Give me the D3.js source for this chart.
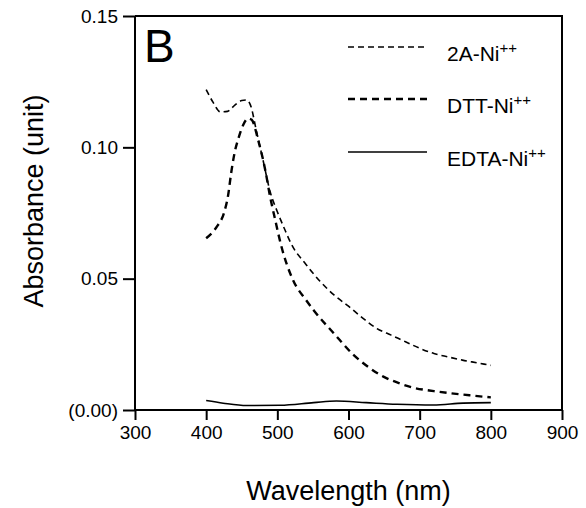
<!DOCTYPE html>
<html>
<head>
<meta charset="utf-8">
<script src="https://cdn.jsdelivr.net/npm/d3@7"></script>
<style>
  body { margin: 0; background: #fff; }
  svg { display: block; font-family: "Liberation Sans", Arial, Helvetica, sans-serif; }
</style>
</head>
<body>
<svg id="chart" width="586" height="508"></svg>
<script>
// ---- data ----
const seriesNames = ["2A-Ni++", "DTT-Ni++", "EDTA-Ni++"];

const wl2A  = [400, 410, 420, 430, 440, 450, 457, 463, 470, 480, 490, 500, 510, 520, 540, 560, 580, 600, 620, 640, 660, 680, 700, 720, 740, 760, 780, 800];
const abs2A = [0.122, 0.117, 0.1135, 0.1137, 0.116, 0.1178, 0.118, 0.1155, 0.107, 0.095, 0.083, 0.0755, 0.069, 0.063, 0.0555, 0.049, 0.0437, 0.0395, 0.035, 0.031, 0.0285, 0.026, 0.0235, 0.0215, 0.0202, 0.019, 0.018, 0.017];

const wlDTT  = [400, 415, 425, 431, 435, 440, 446, 452, 459, 464, 473, 483, 490, 497, 505, 522, 540, 551, 580, 607, 620, 649, 670, 691, 720, 740, 770, 800];
const absDTT = [0.0654, 0.0698, 0.075, 0.082, 0.090, 0.098, 0.104, 0.1085, 0.111, 0.1105, 0.1028, 0.0914, 0.081, 0.0724, 0.063, 0.0495, 0.042, 0.038, 0.029, 0.021, 0.018, 0.0127, 0.0103, 0.0085, 0.0072, 0.0065, 0.0056, 0.0048];

const wlEDTA  = [400, 424, 457, 504, 551, 583, 625, 668, 719, 761, 800];
const absEDTA = [0.0036, 0.0026, 0.0017, 0.0018, 0.0028, 0.0034, 0.0028, 0.0022, 0.0019, 0.0026, 0.0028];

const xTicks = [300, 400, 500, 600, 700, 800, 900];
const yTicks = [0, 0.05, 0.10, 0.15];
const yTickLabels = ["(0.00)", "0.05", "0.10", "0.15"];

const xTitle = "Wavelength (nm)";
const yTitle = "Absorbance (unit)";
const panelLabel = "B";

// ---- layout ----
const svg = d3.select("#chart");
const mLeft = 135, mRight = 562, mTop = 16, mBottom = 410;

const x = d3.scaleLinear().domain([300, 900]).range([mLeft, mRight]);
const y = d3.scaleLinear().domain([0, 0.15]).range([mBottom, mTop]);

// frame (top + right)
svg.append("path")
  .attr("d", `M${mLeft},${mTop}H${mRight}V${mBottom}`)
  .attr("fill", "none").attr("stroke", "#000").attr("stroke-width", 2);

// axes
const xAxis = d3.axisBottom(x).tickValues(xTicks).tickSize(10).tickPadding(6).tickFormat(d3.format("d"));
const yAxis = d3.axisLeft(y).tickValues(yTicks).tickSize(12).tickPadding(5)
  .tickFormat((d, i) => yTickLabels[i]);

const gx = svg.append("g").attr("transform", `translate(0,${mBottom})`).call(xAxis);
const gy = svg.append("g").attr("transform", `translate(${mLeft},0)`).call(yAxis);

[gx, gy].forEach(g => {
  g.select(".domain").attr("stroke", "#000").attr("stroke-width", 2);
  g.selectAll(".tick line").attr("stroke", "#000").attr("stroke-width", 2);
  g.selectAll(".tick text").attr("fill", "#000").style("font-size", "19px")
    .style("font-family", "'Liberation Sans', Arial, Helvetica, sans-serif");
});
gx.select(".domain").attr("d", `M${mLeft},0H${mRight}`);
gy.select(".domain").attr("d", `M0,${mTop}V${mBottom}`);

// titles
svg.append("text")
  .attr("x", (mLeft + mRight) / 2).attr("y", 500)
  .attr("text-anchor", "middle").style("font-size", "27px")
  .text(xTitle);

svg.append("text")
  .attr("transform", `translate(43,201) rotate(-90)`)
  .attr("text-anchor", "middle").style("font-size", "27px")
  .text(yTitle);

svg.append("text")
  .attr("x", 144).attr("y", 62)
  .style("font-size", "46px")
  .text(panelLabel);

// lines
const line = d3.line()
  .x(d => x(d[0])).y(d => y(d[1]))
  .curve(d3.curveMonotoneX);

const series = [
  { name: seriesNames[0], pts: d3.zip(wl2A, abs2A),   width: 1.6, dash: "6,4" },
  { name: seriesNames[1], pts: d3.zip(wlDTT, absDTT), width: 2.4, dash: "7,5" },
  { name: seriesNames[2], pts: d3.zip(wlEDTA, absEDTA), width: 1.6, dash: null }
];

series.forEach(s => {
  svg.append("path")
    .datum(s.pts)
    .attr("d", line)
    .attr("fill", "none")
    .attr("stroke", "#000")
    .attr("stroke-width", s.width)
    .attr("stroke-dasharray", s.dash);
});

// legend
const legY = [47, 99, 152];
series.forEach((s, i) => {
  svg.append("line")
    .attr("x1", 348).attr("x2", 427)
    .attr("y1", legY[i]).attr("y2", legY[i])
    .attr("stroke", "#000").attr("stroke-width", s.width)
    .attr("stroke-dasharray", s.dash);
  const base = s.name.replace("++", "");
  const t = svg.append("text")
    .attr("x", 447).attr("y", legY[i] + 14)
    .style("font-size", "21px");
  t.append("tspan").text(base);
  t.append("tspan").attr("dy", -8).style("font-size", "15px").text("++");
});
</script>
</body>
</html>
